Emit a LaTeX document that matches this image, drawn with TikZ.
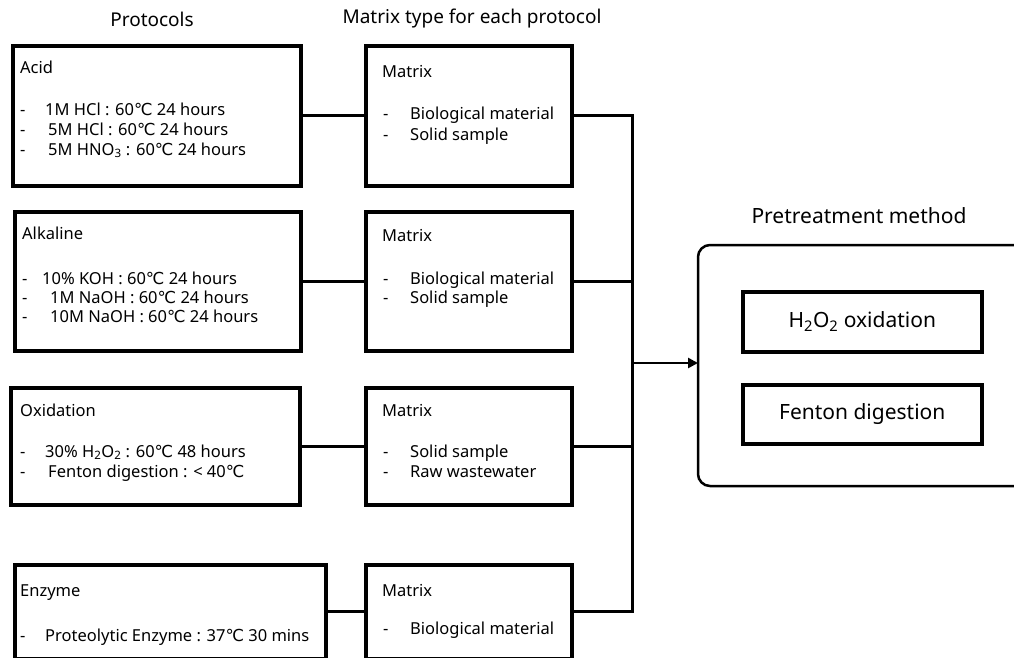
\documentclass[tikz,border=0pt]{standalone}
\usepackage{fontspec}
\setmainfont{Noto Sans}
\newfontfamily\dvfont{DejaVu Sans}
\newcommand{\dC}{{\dvfont\char"2103}}
\usetikzlibrary{arrows.meta}
\begin{document}
\begin{tikzpicture}[x=1pt,y=-1pt,
  box/.style={draw, line width=3.5pt, inner sep=0pt, anchor=north west},
  txt/.style={anchor=west, inner sep=0pt, text height=11pt, text depth=3pt, font=\fontsize{16.5}{19}\selectfont},
  head/.style={anchor=center, inner sep=0pt, font=\fontsize{19}{22}\selectfont},
  big/.style={anchor=center, inner sep=0pt, font=\fontsize{21}{24}\selectfont},
  conn/.style={line width=3pt}]
\useasboundingbox (0,0) rectangle (1014,657);

% headers
\node[head] (h1) at (152,19) {Protocols};
\node[head] (h2) at (472,19) {Matrix type for each protocol};
\node[big] (h3) at (859,216) {Pretreatment method};

% protocol boxes
\node[box, minimum width=288, minimum height=140] (acid) at (11,44) {};
\node[box, minimum width=286, minimum height=139] (alk) at (13,210) {};
\node[box, minimum width=289, minimum height=117] (oxi) at (9,386) {};
\node[box, minimum width=311, minimum height=94] (enz) at (13,563) {};

% matrix boxes
\node[box, minimum width=206, minimum height=140] (m1) at (364,44) {};
\node[box, minimum width=206, minimum height=139] (m2) at (364,210) {};
\node[box, minimum width=206, minimum height=117] (m3) at (364,386) {};
\node[box, minimum width=206, minimum height=94] (m4) at (364,563) {};

% acid text
\node[txt] (a0) at (20,69) {Acid};
\node[txt] (a1d) at (20,111) {-};
\node[txt] (a1) at (45,111) {1M HCl : 60\dC{} 24 hours};
\node[txt] (a2d) at (20,131) {-};
\node[txt] (a2) at (48,131) {5M HCl : 60\dC{} 24 hours};
\node[txt] (a3d) at (20,151) {-};
\node[txt] (a3) at (48,151) {5M HNO\textsubscript{3} : 60\dC{} 24 hours};

% alkaline text
\node[txt] (b0) at (22,235) {Alkaline};
\node[txt] (b1d) at (22,280) {-};
\node[txt] (b1) at (42,280) {10\% KOH : 60\dC{} 24 hours};
\node[txt] (b2d) at (22,299) {-};
\node[txt] (b2) at (50,299) {1M NaOH : 60\dC{} 24 hours};
\node[txt] (b3d) at (22,318) {-};
\node[txt] (b3) at (50,318) {10M NaOH : 60\dC{} 24 hours};

% oxidation text
\node[txt] (c0) at (20,412) {Oxidation};
\node[txt] (c1d) at (20,453) {-};
\node[txt] (c1) at (45,453) {30\% H\textsubscript{2}O\textsubscript{2} : 60\dC{} 48 hours};
\node[txt] (c2d) at (20,473) {-};
\node[txt] (c2) at (48,473) {Fenton digestion : < 40\dC};

% enzyme text
\node[txt] (d0) at (20,592) {Enzyme};
\node[txt] (d1d) at (20,637) {-};
\node[txt] (d1) at (45,637) {Proteolytic Enzyme : 37\dC{} 30 mins};

% matrix texts
\node[txt] (m1t) at (382,73) {Matrix};
\node[txt] (m1d1) at (383,115) {-};
\node[txt] (m1a) at (410,115) {Biological material};
\node[txt] (m1d2) at (383,136) {-};
\node[txt] (m1b) at (410,136) {Solid sample};

\node[txt] (m2t) at (382,237) {Matrix};
\node[txt] (m2d1) at (383,280) {-};
\node[txt] (m2a) at (410,280) {Biological material};
\node[txt] (m2d2) at (383,299) {-};
\node[txt] (m2b) at (410,299) {Solid sample};

\node[txt] (m3t) at (382,412) {Matrix};
\node[txt] (m3d1) at (383,453) {-};
\node[txt] (m3a) at (410,453) {Solid sample};
\node[txt] (m3d2) at (383,473) {-};
\node[txt] (m3b) at (410,473) {Raw wastewater};

\node[txt] (m4t) at (382,592) {Matrix};
\node[txt] (m4d1) at (383,630) {-};
\node[txt] (m4a) at (410,630) {Biological material};

% pretreatment box
\draw[line width=2.5pt, rounded corners=12pt] (1020,245) -- (698,245) -- (698,486) -- (1020,486);
\coordinate (pw) at (698,363);
\node[box, minimum width=239, minimum height=60] (ox) at (741,290) {};
\node[big] (oxt) at (ox.center) {H\textsubscript{2}O\textsubscript{2} oxidation};
\node[box, minimum width=239, minimum height=59] (fe) at (741,383) {};
\node[big] (fet) at (fe.center) {Fenton digestion};

% connectors
\coordinate (jx) at (632,0);
\coordinate (jm) at (632,363);
\draw[conn] (acid.east) -- (acid.east -| m1.west);
\draw[conn] (alk.east) -- (alk.east -| m2.west);
\draw[conn] (oxi.east) -- (oxi.east -| m3.west);
\draw[conn] (enz.east) -- (enz.east -| m4.west);
\draw[conn] (m1.east) -- (m1.east -| jx) -- (m4.east -| jx) -- (m4.east);
\draw[conn] (m2.east) -- (m2.east -| jx);
\draw[conn] (m3.east) -- (m3.east -| jx);
\draw[line width=2.5pt, -{Triangle[length=10pt,width=10pt]}] (jm) -- (pw);
\end{tikzpicture}
\end{document}
